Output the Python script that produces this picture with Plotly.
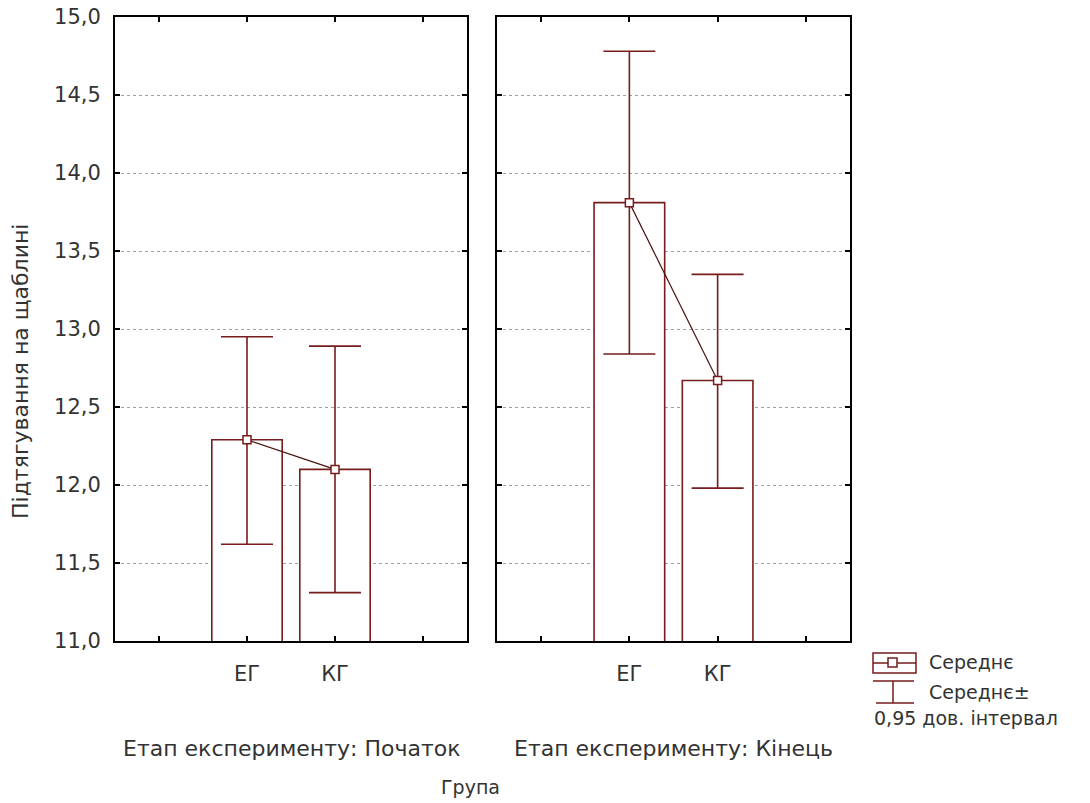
import plotly.graph_objects as go

# ---- data ----
groups = ["ЕГ", "КГ"]
stages = ["Початок", "Кінець"]
means = {"Початок": [12.29, 12.10], "Кінець": [13.81, 12.67]}
ci_low = {"Початок": [11.62, 11.31], "Кінець": [12.84, 11.98]}
ci_high = {"Початок": [12.95, 12.89], "Кінець": [14.78, 13.35]}
y_ticks = [11.0, 11.5, 12.0, 12.5, 13.0, 13.5, 14.0, 14.5, 15.0]
y_title = "Підтягування на щаблині"
x_title = "Група"
panel_prefix = "Етап експерименту: "
legend_labels = ["Середнє", "Середнє±", "0,95 дов. інтервал"]

# page has an 8px body margin; the figure is sized to fit the window
OFF = 8
W, H = 1090 - OFF, 803 - OFF
MAROON = "#761c1c"
TXT = "#333333"
FONT = "DejaVu Sans, Verdana, sans-serif"


def px(x):
    return (x - OFF) / W


def py(y):
    return 1 - (y - OFF) / H


# category slots: one empty slot either side of the groups
slots = list(range(1, len(groups) + 3))
slot_text = [""] + groups + [""]
xpos = [i + 2 for i in range(len(groups))]

fig = go.Figure()
for k, st in enumerate(stages):
    xa = "x" if k == 0 else "x2"
    ya = "y" if k == 0 else "y2"
    m = means[st]
    plus = [h - v for h, v in zip(ci_high[st], m)]
    minus = [v - l for v, l in zip(m, ci_low[st])]
    fig.add_trace(go.Bar(
        x=xpos, y=m, width=0.8, xaxis=xa, yaxis=ya,
        marker=dict(color="white", line=dict(color=MAROON, width=1.6)),
        showlegend=False, hoverinfo="skip"))
    fig.add_trace(go.Scatter(
        x=xpos, y=m, xaxis=xa, yaxis=ya, mode="lines+markers",
        line=dict(color="#4a1010", width=1.2),
        marker=dict(symbol="square", size=8, color="white",
                    line=dict(color=MAROON, width=1.5)),
        error_y=dict(type="data", symmetric=False, array=plus,
                     arrayminus=minus, color=MAROON, thickness=1.6,
                     width=26),
        showlegend=False))

axis_common = dict(showline=True, linecolor="black", linewidth=2,
                   mirror="allticks", ticks="inside", ticklen=5,
                   tickcolor="black", tickwidth=1.5, zeroline=False,
                   automargin=False, ticklabeloverflow="allow")

xdom = [[px(115), px(467)], [px(497), px(850)]]
ydom = [py(641), py(17)]

fig.update_layout(
    width=W, height=H, margin=dict(l=0, r=0, t=0, b=0, pad=0),
    paper_bgcolor="white", plot_bgcolor="white",
    separators=",.",
    font=dict(family=FONT, color=TXT, size=20),
    xaxis=dict(domain=xdom[0], range=[0.5, 4.5], tickvals=slots,
               ticktext=slot_text, showgrid=False, anchor="y",
               ticklabelstandoff=13,
               tickfont=dict(size=21, color=TXT, family=FONT),
               **axis_common),
    xaxis2=dict(domain=xdom[1], range=[0.5, 4.5], tickvals=slots,
                ticktext=slot_text, showgrid=False, anchor="y2",
                ticklabelstandoff=13,
                tickfont=dict(size=21, color=TXT, family=FONT),
                **axis_common),
    yaxis=dict(domain=ydom, range=[11, 15], tickvals=y_ticks,
               tickformat=".1f", showgrid=True, gridcolor="#a0a0a0",
               griddash="dot", gridwidth=1, anchor="x",
               ticklabelstandoff=8,
               tickfont=dict(size=21, color=TXT, family=FONT),
               **axis_common),
    yaxis2=dict(domain=ydom, range=[11, 15], tickvals=y_ticks,
                showticklabels=False, showgrid=True, gridcolor="#a0a0a0",
                griddash="dot", gridwidth=1, anchor="x2", matches="y",
                **axis_common),
)


def note(text, x, y, size, xanchor="center", angle=0):
    return dict(text=text, x=px(x), y=py(y), xref="paper", yref="paper",
                xanchor=xanchor, yanchor="middle", textangle=angle,
                showarrow=False, font=dict(size=size, family=FONT, color=TXT))


ann = [note(y_title, 20, 372, 22, angle=-90)]
for k, st in enumerate(stages):
    cx = ((xdom[k][0] + xdom[k][1]) / 2) * W + OFF
    ann.append(note(panel_prefix + st, cx, 748, 22))
ann.append(note(x_title, 470, 787, 19))
ann.append(note(legend_labels[0], 927, 662, 19, xanchor="left"))
ann.append(note(legend_labels[1], 927, 692, 19, xanchor="left"))
ann.append(note(legend_labels[2], 966, 718, 19, xanchor="center"))
fig.update_layout(annotations=ann)

# legend key symbols (decoration only)
shp = []
L = dict(color=MAROON, width=1.5)
shp.append(dict(type="rect", xref="paper", yref="paper", x0=px(873), x1=px(916),
                y0=py(653), y1=py(673), line=L, fillcolor="white"))
shp.append(dict(type="line", xref="paper", yref="paper", x0=px(873), x1=px(916),
                y0=py(663), y1=py(663), line=L))
shp.append(dict(type="rect", xref="paper", yref="paper", x0=px(888), x1=px(897),
                y0=py(658), y1=py(667), line=L, fillcolor="white"))
shp.append(dict(type="line", xref="paper", yref="paper", x0=px(873), x1=px(914),
                y0=py(681), y1=py(681), line=L))
shp.append(dict(type="line", xref="paper", yref="paper", x0=px(893), x1=px(893),
                y0=py(681), y1=py(703), line=L))
shp.append(dict(type="line", xref="paper", yref="paper", x0=px(876), x1=px(914),
                y0=py(703), y1=py(703), line=L))
fig.update_layout(shapes=shp)

fig.write_html("out.html")
